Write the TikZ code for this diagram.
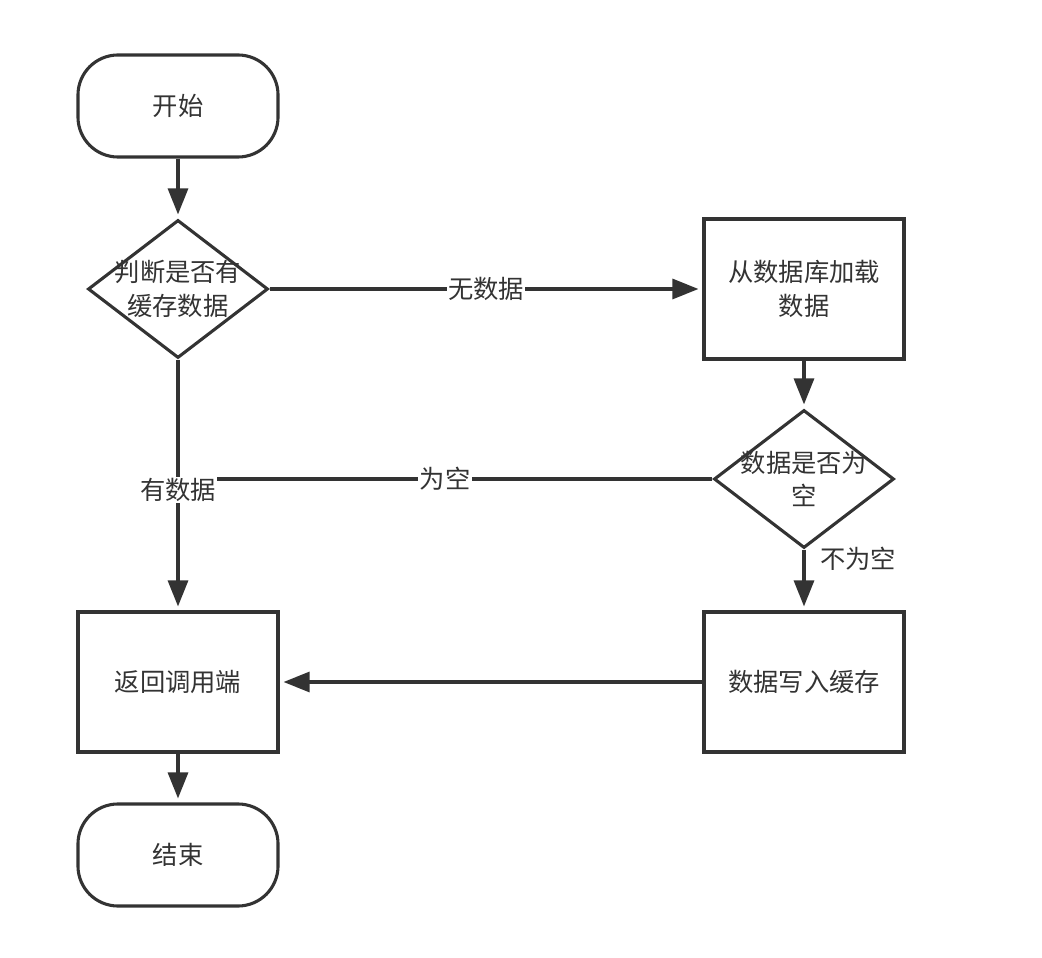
\documentclass[tikz,border=0pt]{standalone}
\usepackage{fontspec}
\setmainfont{Noto Sans CJK SC}
\usetikzlibrary{arrows.meta,shapes.geometric}
\definecolor{ink}{HTML}{333333}

\begin{document}
\begin{tikzpicture}[x=0.025cm,y=-0.025cm,
  every node/.style={text=ink,font=\fontsize{18}{24}\selectfont},
  terminal/.style={draw=ink,line width=2.2pt,rounded corners=1cm,minimum width=5cm,minimum height=2.55cm},
  process/.style={draw=ink,line width=2.2pt,minimum width=5cm,minimum height=3.5cm,align=center},
  decision/.style={draw=ink,line width=2.2pt,diamond,minimum width=4.5cm,minimum height=3.45cm,inner sep=0pt},
  flow/.style={draw=ink,line width=2.2pt,-{Triangle[length=0.65cm,width=0.5cm]},shorten >=0.1cm},
  tag/.style={fill=white,inner sep=1pt}]
  \useasboundingbox (0,0) rectangle (1042,958);
  \node[terminal] (start) at (178,106) {开始};
  \node[decision,label={[align=center]center:判断是否有\\缓存数据}] (cache) at (178,289) {};
  \node[process] (load) at (804,289) {从数据库加载\\数据};
  \node[decision,label={[align=center]center:数据是否为\\空}] (empty) at (804,479) {};
  \node[process] (write) at (804,682) {数据写入缓存};
  \node[process] (ret) at (178,682) {返回调用端};
  \node[terminal] (stop) at (178,855) {结束};
  \coordinate (join) at (cache |- empty);
  \draw[flow] (start) -- (cache);
  \draw[flow] (cache) -- node[tag] {无数据} (load);
  \draw[ink,line width=2.2pt] (empty.west) -- node[tag] {为空} (join);
  \draw[flow] (cache) -- node[tag,pos=0.52] {有数据} (ret);
  \draw[flow] (load) -- (empty);
  \draw[flow] (empty) -- node[right,pos=0.15,xshift=0.25cm] {不为空} (write);
  \draw[flow] (write) -- (ret);
  \draw[flow] (ret) -- (stop);
\end{tikzpicture}
\end{document}
